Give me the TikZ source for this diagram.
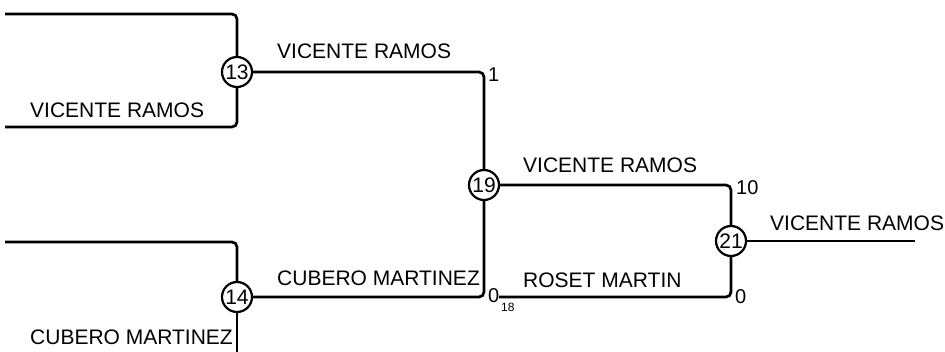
\documentclass[tikz,border=0pt]{standalone}
\usepackage{fontspec}
\setmainfont{Liberation Sans}
\begin{document}
\begin{tikzpicture}[x=1pt,y=-1pt,
  conn/.style={line width=2.7pt,rounded corners=5pt},
  circ/.style={circle,draw,line width=2.2pt,fill=white,minimum size=30pt,inner sep=0pt,font=\fontsize{21}{24}\selectfont},
  lbl/.style={anchor=west,inner sep=0pt,font=\fontsize{21}{24}\selectfont},
  num/.style={inner sep=0pt,font=\fontsize{20}{22}\selectfont},
  sub/.style={inner sep=0pt,font=\fontsize{12}{13}\selectfont}]
\useasboundingbox (0,0) rectangle (945,352);
\node[circ] (n13) at (237,72) {13};
\node[circ] (n14) at (237,297) {14};
\node[circ] (n19) at (484,185) {19};
\node[circ] (n21) at (731,241) {21};
\coordinate (a1) at (5,14);
\coordinate (a2) at (5,127);
\coordinate (b1) at (5,242);
\coordinate (b2) at (237,352);
\coordinate (r1) at (499,297);
\coordinate (e) at (915,241);
\draw[conn] (a1) -| (n13.north);
\draw[conn] (a2) -| (n13.south);
\draw[conn] (b1) -| (n14.north);
\draw[conn] (n14.south) -- (b2);
\draw[conn] (n13.east) -| (n19.north);
\draw[conn] (n14.east) -| (n19.south);
\draw[conn] (n19.east) -| (n21.north);
\draw[conn] (r1) -| (n21.south);
\draw[conn] (n21.east) -- (e);
\node[lbl] (t1) at (30,110) {VICENTE RAMOS};
\node[lbl] (t2) at (277,51) {VICENTE RAMOS};
\node[lbl] (t3) at (523,165) {VICENTE RAMOS};
\node[lbl] (t4) at (770,223) {VICENTE RAMOS};
\node[lbl] (t5) at (30,337) {CUBERO MARTINEZ};
\node[lbl] (t6) at (277,278) {CUBERO MARTINEZ};
\node[lbl] (t7) at (523,280) {ROSET MARTIN};
\node[num,anchor=west] (s1) at (488,75) {1};
\node[num,anchor=west] (s2) at (736,188) {10};
\node[num,anchor=west] (s3) at (488,296) {0};
\node[num,anchor=west] (s4) at (735,297) {0};
\node[sub,anchor=west] (s5) at (501,307) {18};
\end{tikzpicture}
\end{document}
